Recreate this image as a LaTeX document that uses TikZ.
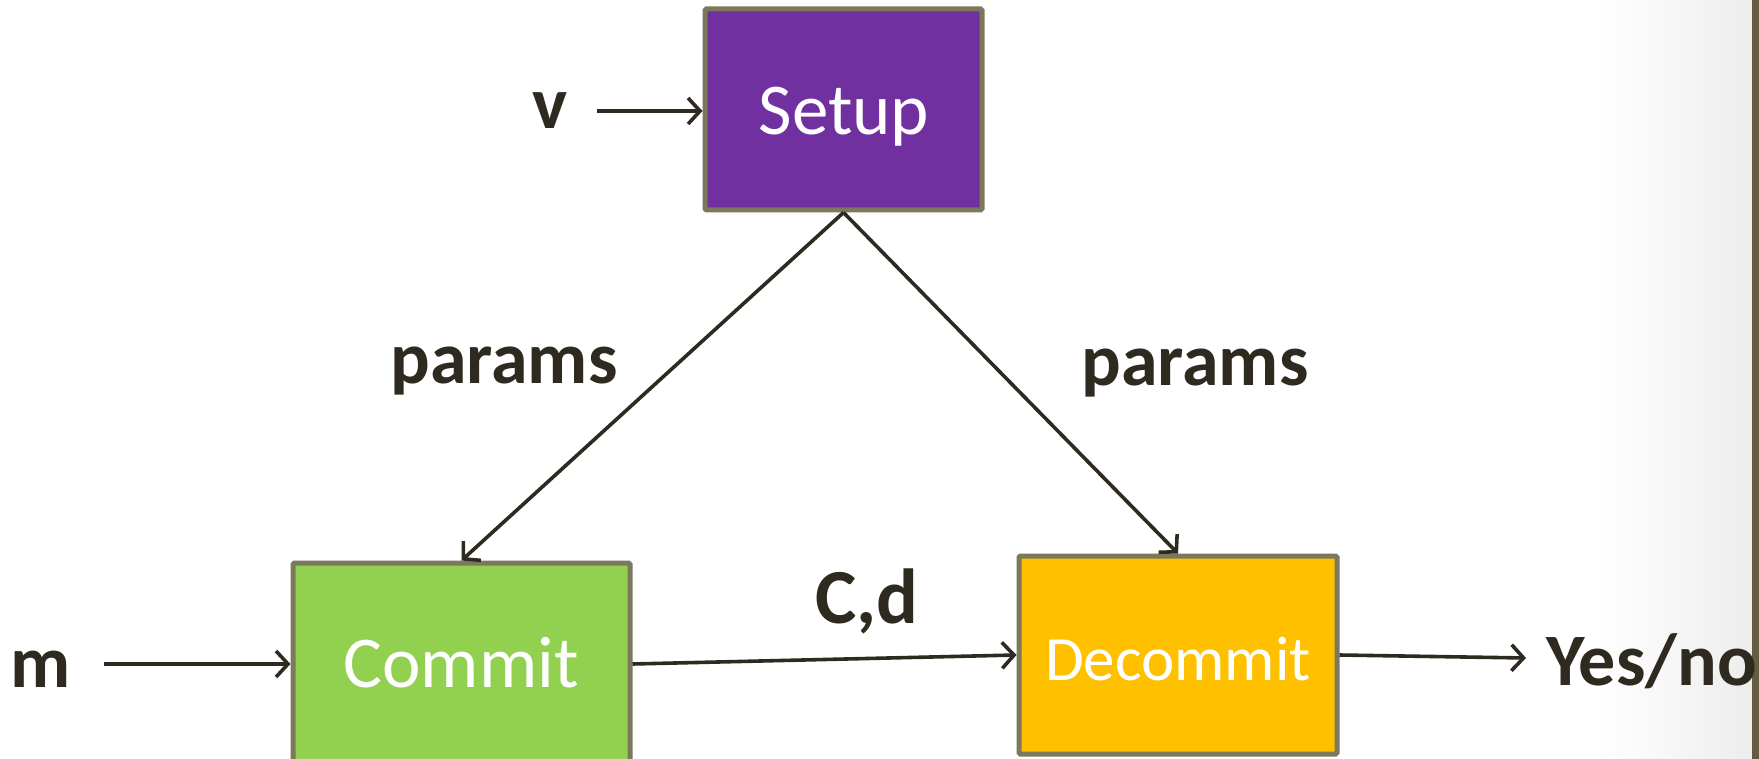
\documentclass[tikz,border=0pt]{standalone}
\usepackage{fontspec}
\setmainfont{Carlito}
\usetikzlibrary{arrows.meta}
\definecolor{boxborder}{RGB}{124,120,92}
\definecolor{inkdark}{RGB}{46,42,32}
\definecolor{setupfill}{RGB}{112,48,160}
\definecolor{commitfill}{RGB}{146,208,80}
\definecolor{decommitfill}{RGB}{255,192,0}
\definecolor{edgebar}{RGB}{102,92,68}
\tikzset{
  blockbox/.style={draw=boxborder, line width=5pt, rounded corners=1.5pt, inner sep=0pt,
    text=white, font=\fontsize{73}{80}\selectfont},
  lbl/.style={text=inkdark, font=\bfseries\fontsize{74}{80}\selectfont, inner sep=0pt, anchor=base},
  arr/.style={draw=inkdark, line width=3.6pt, -{Straight Barb[length=12pt,width=26pt,line width=3.6pt]}}
}
\begin{document}
\begin{tikzpicture}[x=1pt,y=-1pt]
\useasboundingbox (0,0) rectangle (1759,759);
\clip (0,0) rectangle (1759,759);
\shade[left color=white, right color=black!7] (1600,0) rectangle (1752,759);
\fill[edgebar] (1752,0) rectangle (1759,759);

\node[blockbox, fill=setupfill, minimum width=277pt, minimum height=201pt] (setup) at (843.5,109.5) {};
\node[text=white, font=\fontsize{73}{80}\selectfont, inner sep=0pt, anchor=base] (setuptxt) at (844,135) {Setup};

\node[blockbox, fill=commitfill, minimum width=337pt, minimum height=202pt] (commit) at (461.5,664) {};
\node[text=white, font=\fontsize{73}{80}\selectfont, inner sep=0pt, anchor=base] (committxt) at (461,687) {Commit};

\node[blockbox, fill=decommitfill, minimum width=318pt, minimum height=198pt] (decommit) at (1178,655) {};
\node[text=white, font=\fontsize{63}{70}\selectfont, inner sep=0pt, anchor=base] (decommittxt) at (1178,680) {Decommit};

\node[lbl] (v) at (550,129) {v};
\node[lbl] (m) at (41,687) {m};
\node[lbl] (pl) at (504,383) {params};
\node[lbl] (pr) at (1195,385) {params};
\node[lbl, font=\bfseries\fontsize{78}{84}\selectfont] (cd) at (867,623) {C,d};
\node[lbl, anchor=base west] (yes) at (1546,685) {Yes/no};

\coordinate (vstart) at (597,111);
\coordinate (mstart) at (104,664);
\coordinate (yesend) at (1526,658);
\draw[arr] (vstart) -- (setup.west |- vstart);
\draw[arr] (mstart) -- (commit.west);
\draw[arr] (setup.south) -- (commit.north);
\draw[arr] (setup.south) -- (decommit.north);
\draw[arr] (commit.east) -- (decommit.west);
\draw[arr] (decommit.east) -- (yesend);
\end{tikzpicture}
\end{document}
